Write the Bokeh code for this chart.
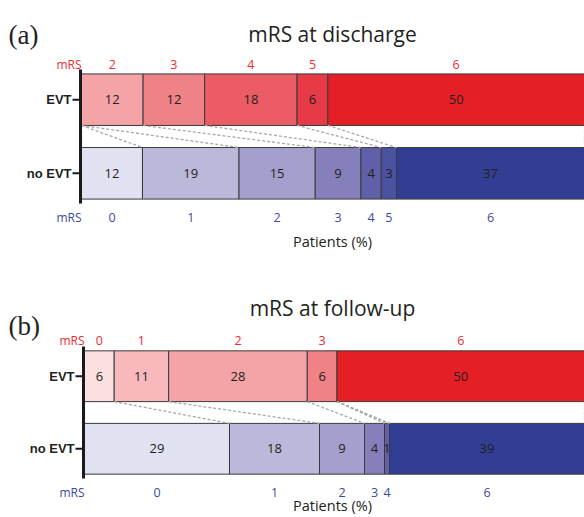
from bokeh.plotting import figure
from bokeh.layouts import column
from bokeh.models import Range1d, ColumnDataSource
from bokeh.core.properties import value
from bokeh.embed import file_html
from bokeh.resources import INLINE

# ---------------- data ----------------
mrs_levels = ["0", "1", "2", "3", "4", "5", "6"]
groups = ["EVT", "no EVT"]

discharge_evt = [0, 0, 12, 12, 18, 6, 50]
discharge_noevt = [12, 19, 15, 9, 4, 3, 37]
followup_evt = [6, 11, 28, 6, 0, 0, 50]
followup_noevt = [29, 18, 9, 4, 1, 0, 39]

red_colors = ["#fbdfe1", "#f8b9bd", "#f4a3a6", "#ef8286", "#ec5c66", "#e63a47", "#e51f26"]
blue_colors = ["#e0e2f1", "#bcb8da", "#a4a0cd", "#8580bb", "#5f60a8", "#4b52a2", "#313e93"]

RED_TXT = "#ec2c33"
BLUE_TXT = "#3b4a9f"
DARK = "#231f20"
SANS = "Open Sans"
PAGE_W = 584


def cum_starts(vals):
    tot = float(sum(vals))
    starts, acc = [], 0.0
    for v in vals:
        starts.append(acc / tot * 100.0)
        acc += v
    return starts, [v / tot * 100.0 for v in vals]


def make_panel(evt, noevt, tag, title, g):
    H = g["page_bottom"] - g["page_top"]
    y0, y1 = -0.41, 1.41
    fl = g["frame_left"]
    ppu = (g["frame_bottom"] - g["frame_top"]) / (y1 - y0)
    ppx = (PAGE_W - fl) / 100.0

    def Y(P):
        return y1 - (P - g["frame_top"]) / ppu

    def X(P):
        return (P - fl) / ppx

    p = figure(width=PAGE_W, height=H, output_backend="svg", toolbar_location=None,
               x_range=Range1d(X(0), X(PAGE_W)), y_range=Range1d(Y(g["page_bottom"]), Y(g["page_top"])),
               x_axis_type=None, y_axis_type=None,
               min_border_left=0, min_border_right=0, min_border_top=0, min_border_bottom=0)
    p.outline_line_color = None
    p.grid.visible = False
    p.background_fill_color = "white"
    p.border_fill_color = "white"

    bh = 0.70
    rows = [(evt, 1.0, red_colors, Y(g["red_base"]), RED_TXT),
            (noevt, 0.0, blue_colors, Y(g["blue_base"]), BLUE_TXT)]
    starts_all = []
    for vals, yy, cols, ly, lc in rows:
        starts, widths = cum_starts(vals)
        starts_all.append(starts)
        L, R, C, Y_, T, XC, LEV = [], [], [], [], [], [], []
        for k, v in enumerate(vals):
            if v == 0:
                continue
            L.append(starts[k]); R.append(starts[k] + widths[k]); C.append(cols[k]); Y_.append(yy)
            T.append(str(v)); XC.append(starts[k] + widths[k] / 2); LEV.append(mrs_levels[k])
        src = ColumnDataSource(dict(left=L, right=R, color=C, y=Y_, t=T, xc=XC,
                                    lev=LEV, ly=[ly] * len(XC)))
        p.hbar(y="y", left="left", right="right", height=bh, fill_color="color",
               line_color="#3a3a3a", line_width=1, source=src)
        p.text(x="xc", y="y", text="t", source=src, text_align="center", text_baseline="middle",
               text_font=value(SANS), text_font_size="13px", text_color=DARK)
        p.text(x="xc", y="ly", text="lev", source=src, text_align="center",
               text_baseline="alphabetic", text_font=value(SANS), text_font_size="12.5px",
               text_color=lc)
        p.text(x=[0], y=[ly], text=["mRS"], text_align="right", text_baseline="alphabetic",
               text_font=value(SANS), text_font_size="12px", text_color=lc)

    # dashed connectors between matching mRS boundaries
    se, sn = starts_all
    xs0 = se + [100.0]
    xs1 = sn + [100.0]
    p.segment(x0=xs0, y0=[1.0 - bh / 2] * len(xs0), x1=xs1, y1=[bh / 2] * len(xs1),
              line_color="#a8a8a8", line_width=1.3, line_dash="3 2")

    # left axis: line, ticks, category labels
    p.segment(x0=[X(fl - 1)], y0=[y0], x1=[X(fl - 1)], y1=[y1], line_color="#1a1a1a", line_width=3)
    p.segment(x0=[X(fl - 9)] * 2, y0=[1.0, 0.0], x1=[X(fl - 1)] * 2, y1=[1.0, 0.0],
              line_color="#1a1a1a", line_width=2)
    p.text(x=[X(fl - 10)] * 2, y=[1.0, 0.0], text=groups, text_align="right",
           text_baseline="middle", text_font=value("Liberation Sans"), text_font_style="bold",
           text_font_size="13px", text_color=DARK)

    # panel tag, title, x label
    p.text(x=[X(8)], y=[Y(g["tag_base"])], text=[tag], text_align="left",
           text_baseline="alphabetic", text_font=value("Liberation Serif"),
           text_font_size="27px", text_color=DARK)
    p.text(x=[X(332)], y=[Y(g["title_base"])], text=[title], text_align="center",
           text_baseline="alphabetic", text_font=value(SANS), text_font_size="21px",
           text_color=DARK)
    p.text(x=[X(332)], y=[Y(g["xlab_base"])], text=["Patients (%)"], text_align="center",
           text_baseline="alphabetic", text_font=value(SANS), text_font_size="14.5px",
           text_color=DARK)
    return p


geom_a = dict(page_top=0, page_bottom=276, frame_left=81, frame_top=69, frame_bottom=203,
              tag_base=34, title_base=33.3, red_base=64, blue_base=216.7, xlab_base=241)
geom_b = dict(page_top=276, page_bottom=517, frame_left=84, frame_top=346, frame_bottom=478,
              tag_base=325, title_base=307.7, red_base=339.5, blue_base=492, xlab_base=505)

pa = make_panel(discharge_evt, discharge_noevt, "(a)", "mRS at discharge", geom_a)
pb = make_panel(followup_evt, followup_noevt, "(b)", "mRS at follow-up", geom_b)

layout = column(pa, pb)
open("out.html", "w").write(file_html(layout, INLINE))
